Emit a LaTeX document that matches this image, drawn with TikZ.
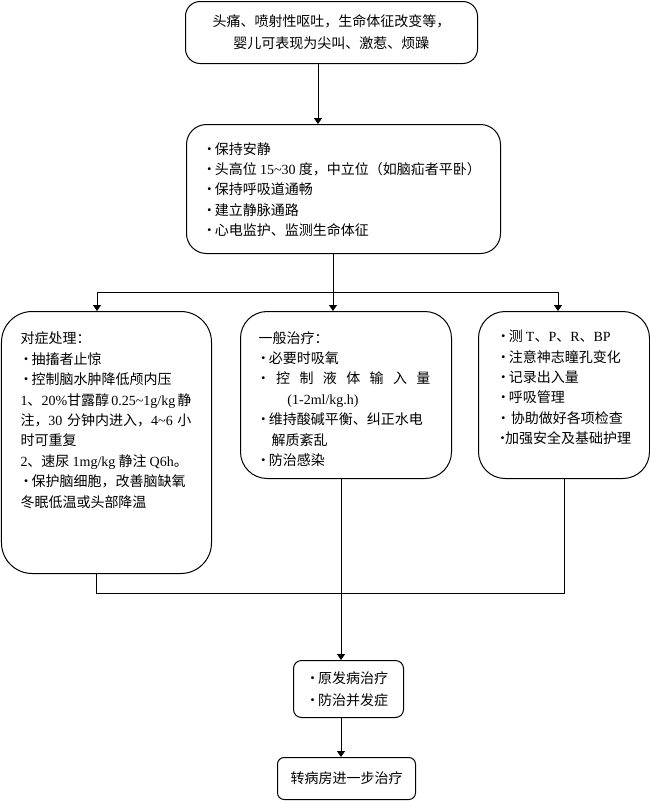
\documentclass[tikz,border=0pt]{standalone}
\usepackage{fontspec}
\setmainfont{Noto Sans CJK SC}
\newfontfamily\latinfont{Liberation Serif}
\usetikzlibrary{arrows.meta,calc,positioning}
\newcommand{\en}[1]{{\latinfont #1}}
\newcommand{\tld}{\textasciitilde}
\newcommand{\dotitem}{\makebox[5.25pt][c]{·}\hspace{1.5pt}}
% width, height, left pad, top pad, lines
\newcommand{\boxtop}[5]{\parbox[c][#2][t]{#1}{\fontsize{10.5}{15.3}\selectfont\raggedright\setlength{\leftskip}{#3}\vspace*{#4}#5}}
\newcommand{\boxmid}[3]{\parbox[c][#2][c]{#1}{\fontsize{10.5}{16.5}\selectfont\centering #3}}
\tikzset{%
	box/.style      = {draw, rounded corners=#1, line width=0.75pt, inner sep=0pt, anchor=north west},
	box/.default    = 10pt,
	waypoint/.style = {coordinate},
	line/.style     = {line width=0.75pt},
	arrow/.style    = {line width=0.75pt, -{Triangle[width=6pt,length=4.5pt]}},
}
\begin{document}
\begin{tikzpicture}[x=0.75pt, y=-0.75pt]
	\useasboundingbox[fill=white] (0,0) rectangle (650,801);
	\node[box=11pt] (sym) at (185,1) {\boxmid{219pt}{46.5pt}{头痛、喷射性呕吐，生命体征改变等，\\婴儿可表现为尖叫、激惹、烦躁}};
	\node[box=15pt] (care) at (186,124) {\boxtop{235.5pt}{96.75pt}{14.6pt}{13.3pt}{%
		\dotitem 保持安静\\
		\dotitem 头高位 \en{15\tld30} 度，中立位（如脑疝者平卧）\\
		\dotitem 保持呼吸道通畅\\
		\dotitem 建立静脉通路\\
		\dotitem 心电监护、监测生命体征}};
	\node[box=23pt] (symp) at (1,311) {\boxtop{157.5pt}{196.5pt}{14.25pt}{15.5pt}{%
		对症处理：\\
		\hspace*{1.5pt}\dotitem 抽搐者止惊\\
		\hspace*{1.5pt}\dotitem 控制脑水肿降低颅内压\\
		\makebox[128.25pt][s]{\en{1}、\en{20\%}甘露醇 \en{0.25\tld1g/kg} 静}\\
		\makebox[128.25pt][s]{注，\en{30} 分钟内进入，\en{4\tld6} 小}\\
		时可重复\\
		\en{2}、速尿 \en{1mg/kg} 静注 \en{Q6h}。\\
		\hspace*{1.5pt}\dotitem 保护脑细胞，改善脑缺氧\\
		冬眠低温或头部降温}};
	\node[box=20pt] (gen) at (240,311) {\boxtop{158.25pt}{125.25pt}{13.5pt}{14.8pt}{%
		一般治疗：\\
		\hspace*{1pt}\dotitem 必要时吸氧\\
		\hspace*{1pt}\makebox[128pt][s]{\makebox[5.25pt][c]{·} 控 制 液 体 输 入 量}\\
		\hspace*{21.75pt}\en{(1-2ml/kg.h)}\\
		\hspace*{1pt}\dotitem 维持酸碱平衡、纠正水电\\
		\hspace*{9.75pt}解质紊乱\\
		\hspace*{1pt}\dotitem 防治感染}};
	\node[box=20pt] (mon) at (478,311) {\boxtop{128.25pt}{125.25pt}{16pt}{14pt}{%
		\dotitem 测 \en{T}、\en{P}、\en{R}、\en{BP}\\
		\dotitem 注意神志瞳孔变化\\
		\dotitem 记录出入量\\
		\dotitem 呼吸管理\\
		\dotitem\hspace{1.5pt}协助做好各项检查\\
		\makebox[4pt][c]{·}加强安全及基础护理}};
	\node[box=6pt] (cause) at (293,660) {\boxmid{82.5pt}{42.75pt}{\dotitem 原发病治疗\\\dotitem 防治并发症}};
	\node[box=5pt] (ward) at (277,757) {\boxmid{103.5pt}{31.5pt}{转病房进一步治疗}};

	\node[waypoint] (wp0) at (318,93) {};
	\node[waypoint] (split) at (333,292) {};
	\node[waypoint] (wpl) at (97,292) {};
	\node[waypoint] (wpr) at (558,292) {};
	\node[waypoint] (jl) at (96,593) {};
	\node[waypoint] (jm) at (341,593) {};
	\node[waypoint] (jr) at (564,593) {};

	\draw[arrow] (sym.south -| wp0) -- (care.north -| wp0);
	\draw[line] (care.south -| split) -- (split);
	\draw[line] (wpl) -- (wpr);
	\draw[arrow] (wpl) -- (symp.north -| wpl);
	\draw[arrow] (split) -- (gen.north -| split);
	\draw[arrow] (wpr) -- (mon.north -| wpr);
	\draw[line] (symp.south -| jl) -- (jl) -- (jr) -- (mon.south -| jr);
	\draw[arrow] (gen.south -| jm) -- (cause.north -| jm);
	\draw[arrow] (cause.south -| jm) -- (ward.north -| jm);
\end{tikzpicture}
\end{document}
